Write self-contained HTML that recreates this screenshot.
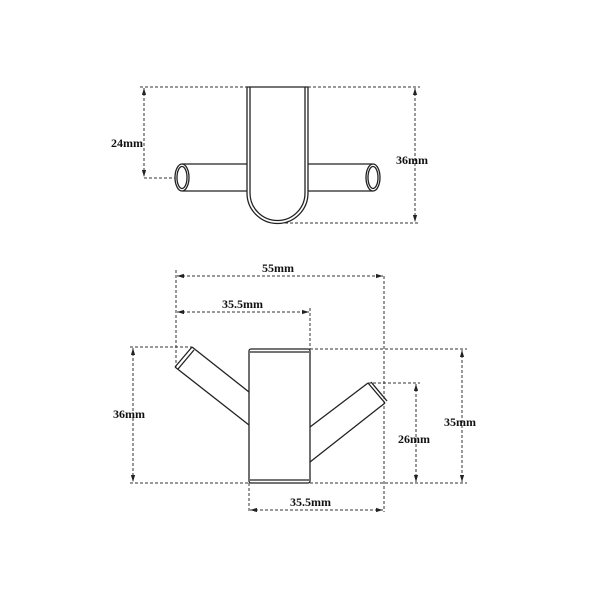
<!DOCTYPE html>
<html><head><style>body{margin:0;background:#fff}svg{display:block}text{font-family:"Liberation Serif",serif;font-weight:bold;font-size:12px;fill:#111}</style></head>
<body>
<svg width="600" height="600" viewBox="0 0 600 600">
<defs><marker id="a" viewBox="0 0 10 10" refX="10" refY="5" markerWidth="7" markerHeight="7" orient="auto-start-reverse"><path d="M0,2L10,5L0,8z" fill="#222"/></marker></defs>
<g stroke="#333" stroke-width="1" fill="none" stroke-dasharray="3,2">
<!-- top view dims -->
<line x1="140" y1="87" x2="247" y2="87"/><line x1="308" y1="87" x2="420" y2="87"/>
<line x1="144" y1="88" x2="144" y2="177" marker-start="url(#a)" marker-end="url(#a)"/>
<line x1="144" y1="178" x2="175" y2="178"/>
<line x1="415" y1="88" x2="415" y2="222" marker-start="url(#a)" marker-end="url(#a)"/>
<line x1="280" y1="223" x2="420" y2="223"/>
<!-- front view dims -->
<line x1="177" y1="276" x2="383" y2="276" marker-start="url(#a)" marker-end="url(#a)"/>
<line x1="176" y1="270" x2="176" y2="367"/>
<line x1="384" y1="276" x2="384" y2="512"/>
<line x1="177" y1="312" x2="309" y2="312" marker-start="url(#a)" marker-end="url(#a)"/>
<line x1="310" y1="308" x2="310" y2="349"/>
<line x1="130" y1="347" x2="192" y2="347"/>
<line x1="133" y1="348" x2="133" y2="482" marker-start="url(#a)" marker-end="url(#a)"/>
<line x1="130" y1="483" x2="467" y2="483"/>
<line x1="310" y1="349" x2="467" y2="349"/>
<line x1="462" y1="350" x2="462" y2="482" marker-start="url(#a)" marker-end="url(#a)"/>
<line x1="368" y1="383" x2="420" y2="383"/>
<line x1="416" y1="384" x2="416" y2="482" marker-start="url(#a)" marker-end="url(#a)"/>
<line x1="250" y1="510" x2="383" y2="510" marker-start="url(#a)" marker-end="url(#a)"/>
<line x1="249" y1="483" x2="249" y2="512"/>
</g>
<g stroke="#222" stroke-width="1.3" fill="none">
<!-- top view -->
<path d="M182,164H247M182,191H247M308,164H373M308,191H373"/>
<ellipse cx="182" cy="177.5" rx="7" ry="13.5" fill="#fff"/><ellipse cx="182" cy="177.5" rx="5" ry="11"/>
<ellipse cx="373" cy="177.5" rx="7" ry="13.5" fill="#fff"/><ellipse cx="373" cy="177.5" rx="5" ry="11"/>
<path d="M247,87V193A30.5,30.5 0 0 0 308,193V87Z" fill="#fff"/>
<path d="M250,87V193A27.5,27.5 0 0 0 305,193V87"/>
<!-- front view -->
<path d="M192,347L249,392M175,367L249,425M192,347L175,367M194,350L178,369"/>
<path d="M368,383L310,427M385,403L310,462M368,383L385,403M371,382L387,401"/>
<rect x="249" y="349" width="61" height="134" rx="2"/>
<path d="M250,352H309M250,480H309"/>
</g>
<text x="111" y="147">24mm</text>
<text x="396" y="164">36mm</text>
<text x="262" y="272">55mm</text>
<text x="222" y="308">35.5mm</text>
<text x="113" y="418">36mm</text>
<text x="444" y="426">35mm</text>
<text x="398" y="443">26mm</text>
<text x="290" y="506">35.5mm</text>
</svg>
</body></html>
